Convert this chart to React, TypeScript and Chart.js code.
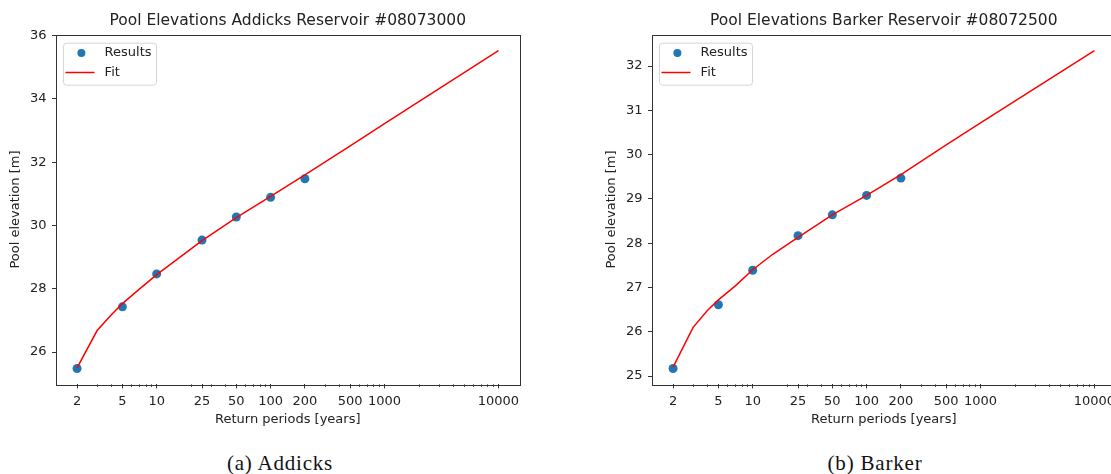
import React, { useEffect, useRef } from "react";
import { Chart, registerables } from "chart.js";

Chart.register(...registerables);

// ---- data ----
const returnPeriods = [2, 5, 10, 25, 50, 100, 200];
const addicksResults = [25.48, 27.43, 28.47, 29.54, 30.27, 30.89, 31.48];
const barkerResults = [25.17, 26.61, 27.39, 28.17, 28.64, 29.08, 29.47];

const fitPeriods = [2, 3, 4, 5, 7, 10, 15, 25, 50, 100, 200, 500, 1000, 10000];
const addicksFit = [25.5, 26.68, 27.18, 27.53, 27.98, 28.45, 28.92, 29.52, 30.25, 30.92, 31.6, 32.52, 33.22, 35.53];
const barkerFit = [25.2, 26.1, 26.48, 26.72, 27.03, 27.4, 27.75, 28.13, 28.64, 29.08, 29.55, 30.22, 30.72, 32.35];

const xTickValues = [2, 5, 10, 25, 50, 100, 200, 500, 1000, 10000];
const xMinorTicks = [
  3, 4, 6, 7, 8, 9,
  20, 30, 40, 60, 70, 80, 90,
  300, 400, 600, 700, 800, 900,
  2000, 3000, 4000, 5000, 6000, 7000, 8000, 9000,
];
const addicksYTicks = [26, 28, 30, 32, 34, 36];
const barkerYTicks = [25, 26, 27, 28, 29, 30, 31, 32];

const FONT = '"DejaVu Sans", sans-serif';
const TEXT = "#222";
const AXIS = "#333";

const framePlugin = {
  id: "frame",
  afterDraw(chart: any, _args: any, opts: any) {
    const { ctx, chartArea: a, scales } = chart;
    ctx.save();
    // frame (all four spines)
    ctx.strokeStyle = AXIS;
    ctx.lineWidth = 1;
    ctx.strokeRect(Math.round(a.left) + 0.5, Math.round(a.top) + 0.5, Math.round(a.right - a.left), Math.round(a.bottom - a.top));
    // minor ticks
    const xs = scales.x;
    ctx.beginPath();
    for (const v of xMinorTicks) {
      if (v < xs.min || v > xs.max) continue;
      const px = Math.round(xs.getPixelForValue(v)) + 0.5;
      ctx.moveTo(px, a.bottom);
      ctx.lineTo(px, a.bottom + 2.5);
    }
    ctx.stroke();
    // title
    ctx.fillStyle = TEXT;
    ctx.textAlign = "center";
    ctx.textBaseline = "middle";
    ctx.font = `15.5px ${FONT}`;
    ctx.fillText(opts.title, (a.left + a.right) / 2, 20.7);
    // axis titles
    ctx.font = `13px ${FONT}`;
    ctx.fillText("Return periods [years]", (a.left + a.right) / 2, 419.5);
    ctx.save();
    ctx.translate(16, (a.top + a.bottom) / 2);
    ctx.rotate(-Math.PI / 2);
    ctx.fillText("Pool elevation [m]", 0, 0);
    ctx.restore();
    // legend
    const bx = a.left + 7.5;
    const by = a.top + 8.5;
    const bw = 93;
    const bh = 42;
    ctx.beginPath();
    const r = 3;
    ctx.moveTo(bx + r, by);
    ctx.lineTo(bx + bw - r, by);
    ctx.quadraticCurveTo(bx + bw, by, bx + bw, by + r);
    ctx.lineTo(bx + bw, by + bh - r);
    ctx.quadraticCurveTo(bx + bw, by + bh, bx + bw - r, by + bh);
    ctx.lineTo(bx + r, by + bh);
    ctx.quadraticCurveTo(bx, by + bh, bx, by + bh - r);
    ctx.lineTo(bx, by + r);
    ctx.quadraticCurveTo(bx, by, bx + r, by);
    ctx.closePath();
    ctx.fillStyle = "rgba(255,255,255,0.8)";
    ctx.fill();
    ctx.strokeStyle = "#d6d6d6";
    ctx.lineWidth = 1;
    ctx.stroke();
    const ds = chart.data.datasets;
    const y1 = a.top + 18.2;
    const y2 = a.top + 37.8;
    ctx.beginPath();
    ctx.arc(a.left + 25.4, y1, 4, 0, Math.PI * 2);
    ctx.fillStyle = ds[0].pointBackgroundColor;
    ctx.fill();
    ctx.beginPath();
    ctx.moveTo(a.left + 9.5, y2);
    ctx.lineTo(a.left + 38.5, y2);
    ctx.strokeStyle = ds[1].borderColor;
    ctx.lineWidth = 1.5;
    ctx.stroke();
    ctx.fillStyle = TEXT;
    ctx.textAlign = "left";
    ctx.font = `13px ${FONT}`;
    ctx.fillText(ds[0].label, a.left + 48.6, y1);
    ctx.fillText(ds[1].label, a.left + 48.6, y2);
    ctx.restore();
  },
};

function makeConfig(title: string, results: number[], fit: number[], yTicks: number[]): any {
  const all = results.concat(fit);
  const lo = Math.min(...all);
  const hi = Math.max(...all);
  const pad = 0.05 * (hi - lo);
  const lxMin = Math.log10(Math.min(...fitPeriods));
  const lxMax = Math.log10(Math.max(...fitPeriods));
  const lpad = 0.05 * (lxMax - lxMin);
  return {
    type: "line",
    data: {
      datasets: [
        {
          label: "Results",
          data: returnPeriods.map((x, i) => ({ x, y: results[i] })),
          showLine: false,
          pointRadius: 4.5,
          pointBackgroundColor: "#1f77b4",
          pointBorderColor: "#1f77b4",
          pointBorderWidth: 0,
          borderColor: "#1f77b4",
          backgroundColor: "#1f77b4",
          order: 1,
        },
        {
          label: "Fit",
          data: fitPeriods.map((x, i) => ({ x, y: fit[i] })),
          borderColor: "#ff0000",
          backgroundColor: "#ff0000",
          borderWidth: 1.5,
          pointRadius: 0,
          tension: 0,
          fill: false,
          order: 0,
        },
      ],
    },
    options: {
      animation: false,
      responsive: false,
      maintainAspectRatio: false,
      devicePixelRatio: 1,
      events: [],
      layout: { padding: { top: 34.7, left: 0, right: 40.5, bottom: 0 } },
      plugins: {
        legend: { display: false },
        tooltip: { enabled: false },
        title: { display: false },
        frame: { title },
      },
      scales: {
        x: {
          type: "logarithmic",
          min: Math.pow(10, lxMin - lpad),
          max: Math.pow(10, lxMax + lpad),
          afterBuildTicks: (s: any) => {
            s.ticks = xTickValues.map((v) => ({ value: v }));
          },
          afterFit: (s: any) => {
            s.height = 55.6;
          },
          border: { display: false },
          grid: { display: true, drawOnChartArea: false, drawTicks: true, tickLength: 4, tickColor: AXIS, color: AXIS },
          ticks: {
            autoSkip: false,
            maxRotation: 0,
            minRotation: 0,
            padding: 5,
            color: TEXT,
            font: { family: FONT, size: 13 },
            callback: (v: any) => String(v),
          },
        },
        y: {
          type: "linear",
          min: lo - pad,
          max: hi + pad,
          afterBuildTicks: (s: any) => {
            s.ticks = yTicks.map((v) => ({ value: v }));
          },
          afterFit: (s: any) => {
            s.width = 56;
          },
          border: { display: false },
          grid: { display: true, drawOnChartArea: false, drawTicks: true, tickLength: 4, tickColor: AXIS, color: AXIS },
          ticks: {
            padding: 5.5,
            color: TEXT,
            font: { family: FONT, size: 13 },
            callback: (v: any) => String(v),
          },
        },
      },
    },
    plugins: [framePlugin],
  };
}

function ChartPanel(props: { left: number; title: string; results: number[]; fit: number[]; yTicks: number[] }) {
  const ref = useRef<HTMLCanvasElement | null>(null);
  useEffect(() => {
    if (!ref.current) return;
    const chart = new Chart(ref.current, makeConfig(props.title, props.results, props.fit, props.yTicks));
    return () => chart.destroy();
  }, []);
  return (
    <canvas
      ref={ref}
      width={560}
      height={440}
      style={{ position: "absolute", left: props.left, top: 0, width: 560, height: 440, display: "block" }}
    />
  );
}

const captionStyle = (center: number): React.CSSProperties => ({
  position: "absolute",
  left: center - 150,
  width: 300,
  top: 451,
  height: 24,
  lineHeight: "24px",
  textAlign: "center",
  fontFamily: '"Liberation Serif", "Times New Roman", serif',
  fontSize: 21,
  letterSpacing: 0.8,
  color: "#111",
  whiteSpace: "nowrap",
});

export default function App() {
  return (
    <div
      style={{
        position: "absolute",
        left: 0,
        top: 0,
        width: 1111,
        height: 474,
        overflow: "hidden",
        background: "#fff",
      }}
    >
      <ChartPanel left={0} title="Pool Elevations Addicks Reservoir #08073000" results={addicksResults} fit={addicksFit} yTicks={addicksYTicks} />
      <ChartPanel left={596} title="Pool Elevations Barker Reservoir #08072500" results={barkerResults} fit={barkerFit} yTicks={barkerYTicks} />
      <div style={captionStyle(280)}>(a) Addicks</div>
      <div style={captionStyle(875)}>(b) Barker</div>
    </div>
  );
}
